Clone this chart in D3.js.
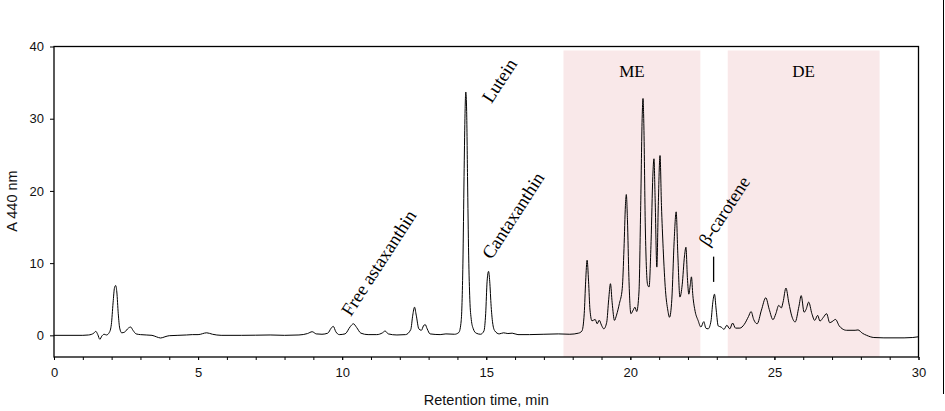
<!DOCTYPE html>
<html>
<head>
<meta charset="utf-8">
<script src="https://cdn.jsdelivr.net/npm/d3@7/dist/d3.min.js"></script>
<style>
  html, body { margin: 0; padding: 0; background: #fff; }
  svg { display: block; }
</style>
</head>
<body>
<svg id="chart" width="945" height="411"></svg>
<script>
// ---------- DATA ----------
const retentionTime = [
  0.0, 1.0, 1.2, 1.38, 1.45, 1.52, 1.59, 1.66, 1.74, 1.82, 1.92, 1.99, 2.05, 2.1, 2.14, 2.18, 2.23, 2.28, 2.35, 2.45,
  2.58, 2.66, 2.74, 2.85, 3.0, 3.2, 3.4, 3.55, 3.7, 3.85, 4.0, 4.3, 4.6, 4.8, 5.0, 5.3, 5.5, 5.8, 6.5, 7.0,
  7.5, 8.0, 8.5, 8.8, 8.96, 9.1, 9.3, 9.5, 9.62, 9.69, 9.78, 9.9, 10.1, 10.28, 10.39, 10.5, 10.65, 10.9, 11.2, 11.4,
  11.49, 11.6, 11.9, 12.2, 12.38, 12.45, 12.51, 12.57, 12.66, 12.75, 12.82, 12.88, 12.95, 13.05, 13.4, 13.6, 13.9, 14.05, 14.13, 14.19,
  14.23, 14.26, 14.29, 14.32, 14.35, 14.39, 14.43, 14.48, 14.55, 14.65, 14.8, 14.92, 14.98, 15.03, 15.08, 15.12, 15.17, 15.23, 15.3, 15.45,
  15.6, 15.75, 15.9, 16.1, 16.5, 17.0, 17.5, 17.9, 18.2, 18.32, 18.4, 18.45, 18.5, 18.55, 18.6, 18.67, 18.78, 18.85, 18.92, 19.0,
  19.08, 19.18, 19.25, 19.31, 19.37, 19.45, 19.52, 19.62, 19.72, 19.78, 19.83, 19.86, 19.9, 19.95, 20.02, 20.1, 20.16, 20.22, 20.3, 20.36,
  20.41, 20.44, 20.47, 20.52, 20.6, 20.65, 20.72, 20.78, 20.82, 20.86, 20.92, 20.97, 21.03, 21.08, 21.14, 21.22, 21.3, 21.36, 21.44, 21.52,
  21.59, 21.65, 21.72, 21.8, 21.88, 21.93, 21.98, 22.03, 22.08, 22.12, 22.17, 22.25, 22.35, 22.45, 22.55, 22.62, 22.7, 22.8, 22.86, 22.92,
  22.98, 23.05, 23.15, 23.25, 23.35, 23.45, 23.55, 23.65, 23.8, 23.95, 24.1, 24.19, 24.28, 24.4, 24.55, 24.7, 24.82, 24.95, 25.05, 25.15,
  25.24, 25.3, 25.4, 25.5, 25.6, 25.72, 25.85, 25.93, 26.03, 26.1, 26.19, 26.3, 26.4, 26.5, 26.58, 26.7, 26.81, 26.92, 27.0, 27.12,
  27.25, 27.35, 27.5, 27.8, 27.9, 28.05, 28.2, 28.45, 28.8, 29.5, 29.8, 30.0
];
const absorbance = [
  0, 0, 0.05, 0.3, 0.55, 0.1, -0.55, -0.1, 0.15, 0.05, 0.4, 1.5, 4.5, 6.6, 6.9, 6.0, 3.0, 1.0, 0.35, 0.45,
  1.0, 1.15, 0.7, 0.2, 0.1, 0.05, 0.0, -0.2, -0.37, -0.2, -0.05, 0.0, 0.05, 0.1, 0.1, 0.35, 0.15, 0.0, 0.0, 0.02,
  0.05, 0.0, 0.05, 0.25, 0.5, 0.2, 0.15, 0.3, 1.0, 1.25, 0.5, 0.1, 0.2, 1.2, 1.6, 1.1, 0.3, 0.1, 0.1, 0.35,
  0.6, 0.2, 0.05, 0.1, 0.8, 2.8, 3.9, 2.8, 0.9, 0.7, 1.3, 1.5, 0.9, 0.2, 0.1, 0.2, 0.15, 0.4, 2.0, 10,
  22, 30, 33.7, 31, 22, 11, 5, 2.2, 0.9, 0.3, 0.15, 0.6, 3.0, 7.5, 8.86, 7.5, 4.0, 1.5, 0.6, 0.2,
  0.35, 0.25, 0.3, 0.1, 0.1, 0.15, 0.2, 0.15, 0.3, 0.6, 3.0, 7.5, 10.4, 7.5, 3.5, 2.0, 2.2, 1.6, 2.1, 1.4,
  0.9, 1.8, 5.0, 7.15, 4.5, 2.07, 2.8, 4.4, 6.5, 12, 18, 19.5, 16, 8, 3.0, 3.5, 3.9, 3.3, 6, 18,
  30, 32.8, 29, 15, 7.0, 6.7, 13, 22, 24.45, 19, 9.45, 18, 24.9, 18, 12, 6.2, 3.5, 2.5, 5, 13,
  17.1, 11, 5.3, 7, 11, 12.2, 8, 5.7, 7.0, 8.1, 5.5, 3.3, 2.07, 1.15, 1.9, 1.0, 0.9, 2.0, 4.5, 5.7,
  3.5, 1.3, 1.15, 0.83, 1.4, 0.9, 1.7, 1.0, 1.0, 1.5, 2.6, 3.3, 2.2, 1.6, 3.5, 5.2, 3.6, 2.17, 3.0, 4.15,
  3.8, 4.6, 6.55, 4.5, 2.7, 1.85, 4.0, 5.5, 3.2, 3.6, 4.6, 3.0, 2.07, 2.77, 1.98, 2.5, 3.0, 1.75, 1.9, 2.2,
  1.3, 0.92, 0.7, 0.7, 0.75, 0.3, 0.0, -0.3, -0.35, -0.35, -0.3, -0.2
];

const xTicks = [0, 5, 10, 15, 20, 25, 30];
const yTicks = [0, 10, 20, 30, 40];

const regionLabels = ["ME", "DE"];
const regionStart = [17.68, 23.38];
const regionEnd = [22.43, 28.65];
const regionTop = 39.45;

const peakNames = ["Free astaxanthin", "Lutein", "Cantaxanthin", "\u03B2-carotene"];
const peakLabelTime = [10.3, 15.18, 15.18, 22.7];
const peakLabelAbs = [2.5, 32.0, 10.4, 12.2];

const markerTime = 22.89;
const markerFrom = 7.4;
const markerTo = 10.9;

// ---------- LAYOUT ----------
const svg = d3.select("#chart");
const m = { left: 54, right: 918.5, top: 46.5, bottom: 357 };

const x = d3.scaleLinear().domain([0, 30]).range([m.left, m.right]);
const y = d3.scaleLinear().domain([-3, 40]).range([m.bottom, m.top]);

// shaded regions
const regions = regionLabels.map((d, i) => ({ label: d, s: regionStart[i], e: regionEnd[i] }));
svg.append("g").selectAll("rect")
  .data(regions)
  .join("rect")
  .attr("x", d => x(d.s))
  .attr("width", d => x(d.e) - x(d.s))
  .attr("y", y(regionTop))
  .attr("height", m.bottom - y(regionTop))
  .attr("fill", "#f9e8e9");

svg.append("g").selectAll("text")
  .data(regions)
  .join("text")
  .attr("x", d => x((d.s + d.e) / 2))
  .attr("y", 76.5)
  .attr("text-anchor", "middle")
  .attr("font-family", "'Liberation Serif', 'Times New Roman', serif")
  .attr("font-size", "17px")
  .attr("fill", "#000")
  .text(d => d.label);

// trace
const pts = retentionTime.map((t, i) => [t, absorbance[i]]);
const line = d3.line().x(d => x(d[0])).y(d => y(d[1])).curve(d3.curveMonotoneX);
svg.append("path")
  .datum(pts)
  .attr("d", line)
  .attr("fill", "none")
  .attr("stroke", "#000")
  .attr("stroke-width", 1)
  .attr("stroke-linejoin", "round");

// marker
svg.append("line")
  .attr("x1", x(markerTime)).attr("x2", x(markerTime))
  .attr("y1", y(markerFrom)).attr("y2", y(markerTo))
  .attr("stroke", "#000").attr("stroke-width", 1.3);

// peak labels
svg.append("g").selectAll("text")
  .data(peakNames.map((d, i) => ({ name: d, t: peakLabelTime[i], a: peakLabelAbs[i] })))
  .join("text")
  .attr("transform", d => `translate(${x(d.t)},${y(d.a)}) rotate(-57)`)
  .attr("font-family", "'Liberation Serif', 'Times New Roman', serif")
  .attr("font-size", "18.5px")
  .attr("fill", "#000")
  .text(d => d.name);

// axes
const xAxis = d3.axisBottom(x).tickValues(xTicks).tickSize(3).tickPadding(8).tickFormat(d3.format("d"));
const xMinor = d3.axisBottom(x).tickValues(d3.range(0, 31, 1)).tickSize(3).tickFormat("");
const yAxis = d3.axisLeft(y).tickValues(yTicks).tickSize(4).tickPadding(6).tickFormat(d3.format("d"));

const gxm = svg.append("g").attr("transform", `translate(0,${m.bottom})`).call(xMinor);
const gx = svg.append("g").attr("transform", `translate(0,${m.bottom})`).call(xAxis);
const gy = svg.append("g").attr("transform", `translate(${m.left},0)`).call(yAxis);

[gx, gy, gxm].forEach(g => {
  g.select(".domain").remove();
  g.selectAll("line").attr("stroke", "#000");
  g.selectAll("text")
    .attr("font-family", "'Liberation Sans', Arial, sans-serif")
    .attr("font-size", "13px")
    .attr("fill", "#111");
});

// frame
svg.append("rect")
  .attr("x", m.left).attr("y", m.top)
  .attr("width", m.right - m.left).attr("height", m.bottom - m.top)
  .attr("fill", "none").attr("stroke", "#000").attr("stroke-width", 1.3);

// axis titles
svg.append("text")
  .attr("x", (m.left + m.right) / 2).attr("y", 405)
  .attr("text-anchor", "middle")
  .attr("font-family", "'Liberation Sans', Arial, sans-serif")
  .attr("font-size", "14.5px").attr("fill", "#111")
  .text("Retention time, min");

svg.append("text")
  .attr("transform", `translate(17,201) rotate(-90)`)
  .attr("text-anchor", "middle")
  .attr("font-family", "'Liberation Sans', Arial, sans-serif")
  .attr("font-size", "14.5px").attr("fill", "#111")
  .text("A 440 nm");

// outer image border (right edge)
svg.append("line")
  .attr("x1", 943.5).attr("x2", 943.5).attr("y1", 0).attr("y2", 394)
  .attr("stroke", "#000").attr("stroke-width", 1);
</script>
</body>
</html>
